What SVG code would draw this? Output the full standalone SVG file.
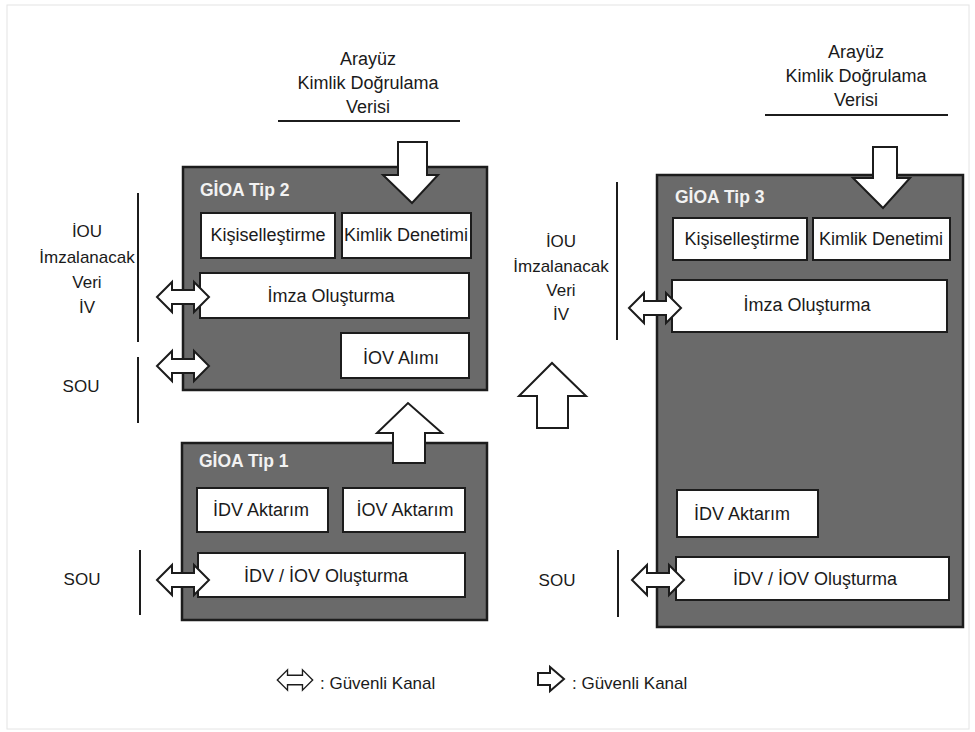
<svg xmlns="http://www.w3.org/2000/svg" xmlns:xlink="http://www.w3.org/1999/xlink" width="975" height="732" viewBox="0 0 975 732">
<style>
.t{font-family:"Liberation Sans",Arial,sans-serif;font-size:18px;fill:#1a1a1a}
.s{font-size:17px}
.c{text-anchor:middle}
.ttl{font-family:"Liberation Sans",Arial,sans-serif;font-size:17.5px;font-weight:bold;fill:#f2f2f2}
.big{fill:#6a6a6a;stroke:#1c1c1c;stroke-width:2.5}
.box{fill:#fff;stroke:#1c1c1c;stroke-width:2}
.arr{fill:#fff;stroke:#1c1c1c;stroke-width:2;stroke-linejoin:miter}
.ln{stroke:#1c1c1c;stroke-width:2;fill:none}
</style>
<defs>
<path id="dbl" d="M-26,0 L-11,-15 L-11,-7 L11,-7 L11,-15 L26,0 L11,15 L11,7 L-11,7 L-11,15 Z"/>
</defs>
<rect x="7" y="5" width="962" height="724" fill="#fff" stroke="#e4e4e4" stroke-width="1"/>

<g id="arayuz-left">
<text class="t c" x="368" y="65">Arayüz</text>
<text class="t c" x="368" y="89">Kimlik Doğrulama</text>
<text class="t c" x="368" y="113">Verisi</text>
<line class="ln" x1="278" y1="121" x2="460" y2="121"/>
</g>
<g id="arayuz-right">
<text class="t c" x="856" y="58">Arayüz</text>
<text class="t c" x="856" y="82">Kimlik Doğrulama</text>
<text class="t c" x="856" y="106">Verisi</text>
<line class="ln" x1="765" y1="115" x2="948" y2="115"/>
</g>

<g id="labels-left">
<text class="t s c" x="87" y="237">İOU</text>
<text class="t s c" x="87" y="263">İmzalanacak</text>
<text class="t s c" x="87" y="288">Veri</text>
<text class="t s c" x="87" y="313">İV</text>
<line class="ln" x1="138" y1="193" x2="138" y2="342"/>
<text class="t s c" x="81" y="392">SOU</text>
<line class="ln" x1="138" y1="357" x2="138" y2="423"/>
<text class="t s c" x="82" y="585">SOU</text>
<line class="ln" x1="140" y1="550" x2="140" y2="615"/>
</g>
<g id="labels-right">
<text class="t s c" x="561" y="247">İOU</text>
<text class="t s c" x="561" y="272">İmzalanacak</text>
<text class="t s c" x="561" y="296">Veri</text>
<text class="t s c" x="561" y="320">İV</text>
<line class="ln" x1="617" y1="182" x2="617" y2="340"/>
<text class="t s c" x="557" y="586">SOU</text>
<line class="ln" x1="618" y1="550" x2="618" y2="617"/>
</g>

<g id="gioa-tip2">
<rect class="big" x="183" y="167" width="304" height="223"/>
<text class="ttl" x="200" y="196">GİOA Tip 2</text>
<g id="t2-kisisel"><rect class="box" x="201" y="213" width="134" height="45"/><text class="t c" x="268" y="241">Kişiselleştirme</text></g>
<g id="t2-kimlik"><rect class="box" x="342" y="213" width="129" height="45"/><text class="t c" x="406" y="241">Kimlik Denetimi</text></g>
<g id="t2-imza"><rect class="box" x="200" y="273" width="269" height="45"/><text class="t c" x="331" y="302">İmza Oluşturma</text></g>
<g id="t2-iov"><rect class="box" x="341" y="333" width="128" height="45"/><text class="t c" x="401" y="364">İOV Alımı</text></g>
</g>

<g id="gioa-tip1">
<rect class="big" x="182" y="443" width="305" height="177"/>
<text class="ttl" x="199" y="467">GİOA Tip 1</text>
<g id="t1-idv"><rect class="box" x="197" y="488" width="131" height="44"/><text class="t c" x="261" y="516">İDV Aktarım</text></g>
<g id="t1-iov"><rect class="box" x="343" y="488" width="122" height="44"/><text class="t c" x="405" y="516">İOV Aktarım</text></g>
<g id="t1-olus"><rect class="box" x="198" y="553" width="267" height="44"/><text class="t c" x="326" y="582">İDV / İOV Oluşturma</text></g>
</g>

<g id="gioa-tip3">
<rect class="big" x="657" y="175" width="306" height="452"/>
<text class="ttl" x="675" y="203">GİOA Tip 3</text>
<g id="t3-kisisel"><rect class="box" x="673" y="218" width="134" height="42"/><text class="t c" x="742" y="245">Kişiselleştirme</text></g>
<g id="t3-kimlik"><rect class="box" x="813" y="218" width="137" height="42"/><text class="t c" x="881" y="245">Kimlik Denetimi</text></g>
<g id="t3-imza"><rect class="box" x="672" y="280" width="275" height="52"/><text class="t c" x="807" y="311">İmza Oluşturma</text></g>
<g id="t3-idv"><rect class="box" x="677" y="490" width="141" height="47"/><text class="t c" x="742" y="520">İDV Aktarım</text></g>
<g id="t3-olus"><rect class="box" x="676" y="557" width="273" height="43"/><text class="t c" x="815" y="585">İDV / İOV Oluşturma</text></g>
</g>

<g id="connectors">
<path class="arr" d="M398,142 L427,142 L427,175 L438,175 L412,203 L383,175 L398,175 Z"/>
<path class="arr" d="M873,147 L897,147 L897,178 L910,178 L883,208 L853,178 L873,178 Z"/>
<path class="arr" d="M393,463 L425,463 L425,433 L442,433 L408,403 L377,433 L393,433 Z"/>
<path class="arr" d="M537,428 L568,428 L568,396 L586,396 L552,363 L519,396 L537,396 Z"/>
<use href="#dbl" xlink:href="#dbl" class="arr" transform="translate(183,297)"/>
<use href="#dbl" xlink:href="#dbl" class="arr" transform="translate(183,366)"/>
<use href="#dbl" xlink:href="#dbl" class="arr" transform="translate(183,580)"/>
<use href="#dbl" xlink:href="#dbl" class="arr" transform="translate(655,308)"/>
<use href="#dbl" xlink:href="#dbl" class="arr" transform="translate(658,580)"/>
</g>

<g id="legend">
<use href="#dbl" xlink:href="#dbl" class="arr" transform="translate(295,680) scale(0.68)"/>
<text class="t s" x="320" y="689">: Güvenli Kanal</text>
<path class="arr" d="M538,673 L550,673 L550,667 L564,679 L550,691 L550,685 L538,685 Z"/>
<text class="t s" x="572" y="689">: Güvenli Kanal</text>
</g>
</svg>
